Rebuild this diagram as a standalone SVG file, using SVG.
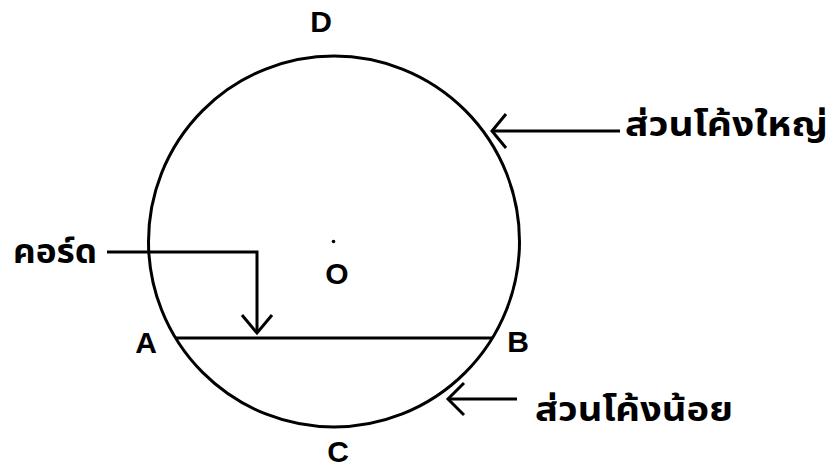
<svg xmlns="http://www.w3.org/2000/svg" width="831" height="468" viewBox="0 0 831 468">
<style>
.ln{fill:none;stroke:#000;stroke-width:3;stroke-linecap:butt;stroke-linejoin:miter}
.lbl{font-family:"Liberation Sans",Arial,sans-serif;font-weight:bold;font-size:30px;fill:#000;text-anchor:middle}
.th{font-family:Tahoma,"Noto Sans Thai","Noto Sans","DejaVu Sans",sans-serif;font-weight:bold;font-size:33px;fill:#000}
</style>
<rect width="831" height="468" fill="#fff"/>
<g id="circle">
<circle cx="334" cy="241.5" r="185.5" class="ln"/>
<circle cx="333.5" cy="241.5" r="1.8" fill="#000"/>
</g>
<g id="chord">
<line x1="176" y1="338" x2="493" y2="338" class="ln"/>
</g>
<g id="points">
<text x="146" y="353" class="lbl">A</text>
<text x="518" y="352" class="lbl">B</text>
<text x="338" y="462" class="lbl">C</text>
<text x="321" y="32" class="lbl">D</text>
<text x="337" y="284" class="lbl">O</text>
</g>
<g id="labels">
<text x="625" y="136" class="th" textLength="203" lengthAdjust="spacingAndGlyphs">ส่วนโค้งใหญ่</text>
<text x="535" y="421" class="th" textLength="198" lengthAdjust="spacingAndGlyphs">ส่วนโค้งน้อย</text>
<text x="13" y="263" class="th" textLength="84" lengthAdjust="spacingAndGlyphs">คอร์ด</text>
</g>
<g id="connectors">
<polyline points="620,131 493,131" class="ln"/>
<polyline points="506,114 492,131 506,148" class="ln"/>
<polyline points="517,399 449,399" class="ln"/>
<polyline points="464,383 448,399 464,415" class="ln"/>
<polyline points="107,252 257,252 257,332" class="ln"/>
<polyline points="242,315 257,333 272,315" class="ln"/>
</g>
</svg>
